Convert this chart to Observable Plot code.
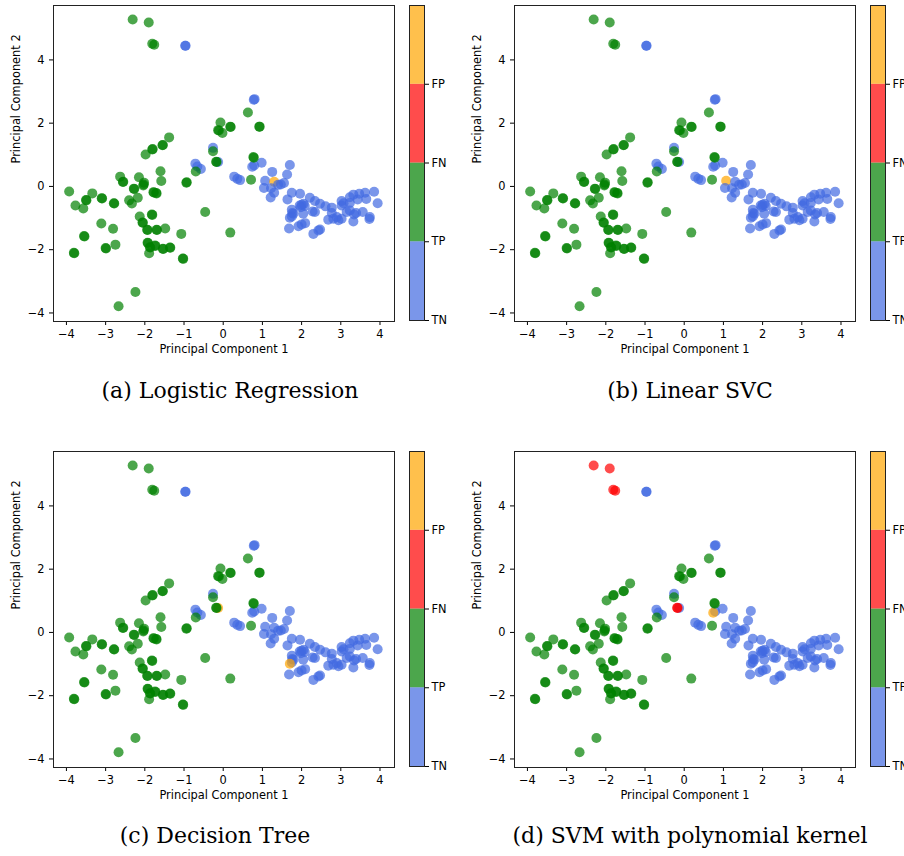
<!DOCTYPE html>
<html><head><meta charset="utf-8">
<script src="https://cdn.jsdelivr.net/npm/d3@7"></script>
<script src="https://cdn.jsdelivr.net/npm/@observablehq/plot@0.6"></script>
<style>
html,body{margin:0;padding:0;background:#fff;width:904px;height:856px;overflow:hidden;position:relative;}
.abs{position:absolute;}
.cap{position:absolute;font-family:"DejaVu Serif",serif;font-size:22px;line-height:26px;color:#000;transform:translateX(-50%);white-space:nowrap;}
</style></head><body>
<script>
// Actual positives (green when predicted correctly)
const pos1 = [
  -2.31,-1.90,-1.81,-1.76,0.63,0.92,0.93,-0.07,-0.13,-0.11,-0.02,0.18,0.19,-0.26,-0.18,-0.17,0.77,0.78,-0.70,-0.94,-0.93,0.71,-0.46,0.18,-1.07,
  -1.38,-1.55,-1.54,-1.81,-1.80,-1.98,-1.60,-1.58,-2.63,-2.56,-2.55,-2.15,-2.02,-2.04,-2.03,-2.28,-2.27,-1.78,-1.77,-1.71,-1.70,
  -3.93,-3.34,-3.50,-3.49,-3.77,-3.57,-3.10,-3.09,-2.79,-2.78,-2.40,-2.33,-2.18,-2.13,-2.06,-2.05,-1.82,-1.81,-1.94,-1.93,-1.70,-1.69,-1.48,
  -3.11,-2.81,-3.55,-3.54,-2.75,-3.00,-2.99,-3.81,-3.80,-1.93,-1.92,-1.87,-1.86,-1.89,-1.74,-1.73,-1.54,-1.53,-1.36,-1.35,-1.03,-1.02,-2.24,-2.67
];
const pos2 = [
  5.28,5.18,4.51,4.48,2.34,1.89,1.89,2.02,1.78,1.77,1.69,1.89,1.88,1.11,0.78,0.77,0.93,0.91,0.47,0.12,0.13,0.21,-0.81,-1.46,-1.50,
  1.55,1.30,1.31,1.17,1.18,1.01,0.48,0.17,0.31,0.14,0.15,0.29,0.12,0.03,0.06,-0.07,-0.08,-0.18,-0.19,-0.21,-0.22,
  -0.16,-0.22,-0.43,-0.44,-0.60,-0.70,-0.37,-0.38,-0.53,-0.54,-0.44,-0.54,-0.36,-0.95,-1.14,-1.15,-0.89,-0.90,-1.37,-1.38,-1.37,-1.38,-1.33,
  -1.17,-1.34,-1.57,-1.58,-1.84,-1.95,-1.96,-2.10,-2.11,-1.78,-1.79,-1.92,-1.93,-2.11,-1.87,-1.88,-1.97,-1.98,-1.93,-1.94,-2.28,-2.29,-3.34,-3.79
];
// Actual negatives (blue when predicted correctly)
const neg1 = [
  -0.97,-0.96,0.78,0.80,-0.26,-0.13,-0.71,-0.66,-0.57,0.79,0.74,0.98,0.28,0.36,0.43,1.07,1.25,1.70,1.63,1.30,1.40,1.47,1.55,1.04,1.22,1.30,1.21,1.75,1.96,1.64,
  2.21,2.34,2.47,2.61,2.77,3.02,3.07,3.23,3.32,3.47,3.62,3.85,3.94,3.65,3.43,3.23,
  2.00,2.08,1.95,2.05,1.98,1.75,1.79,1.76,1.75,1.70,2.04,2.28,2.34,1.68,1.92,2.00,2.09,2.30,2.43,2.47,2.68,2.81,2.94,3.02,2.90,2.77,3.02,3.15,3.23,3.34,3.39,3.56,3.32,3.74,3.73
];
const neg2 = [
  4.45,4.45,2.74,2.76,1.22,0.77,0.72,0.63,0.55,0.66,0.62,0.75,0.31,0.24,0.20,0.18,0.46,0.68,0.38,0.15,0.05,0.06,0.11,-0.05,-0.06,-0.20,-0.35,-0.20,-0.23,-0.41,
  -0.36,-0.46,-0.55,-0.63,-0.67,-0.46,-0.53,-0.34,-0.26,-0.23,-0.20,-0.17,-0.53,-0.40,-0.41,-0.52,
  -0.58,-0.62,-0.60,-0.55,-0.66,-0.74,-0.86,-0.84,-0.95,-0.99,-0.86,-0.79,-0.81,-1.33,-1.26,-1.20,-1.16,-1.50,-1.39,-1.36,-1.05,-1.02,-1.07,-1.02,-0.97,-0.84,-0.60,-0.81,-0.76,-0.89,-0.84,-0.81,-1.11,-0.97,-1.03
];
// Points each model gets wrong
const missLR   = [[1.30, 0.15]];
const missSVC  = [[1.07, 0.18]];
const missDT   = [[-0.13, 0.77], [1.70, -0.99]];
const missPoly = [[-2.31, 5.28], [-1.90, 5.18], [-1.81, 4.51], [-1.76, 4.48], [-0.18, 0.78], [-0.17, 0.77], [0.74, 0.62]];

const captions = ["(a) Logistic Regression", "(b) Linear SVC", "(c) Decision Tree", "(d) SVM with polynomial kernel"];
const misses = [missLR, missSVC, missDT, missPoly];
const outcomeNames = ["TN", "TP", "FN", "FP"];
const outcomeColors = ["royalblue", "green", "red", "orange"];
const xTicks = [-4, -3, -2, -1, 0, 1, 2, 3, 4];
const yTicks = [-4, -2, 0, 2, 4];
const xLabel = "Principal Component 1";
const yLabel = "Principal Component 2";

function rowsFor(miss) {
  const isMiss = (x, y) => miss.some(([a, b]) => a === x && b === y);
  const rows = [];
  neg1.forEach((x, i) => rows.push({pc1: x, pc2: neg2[i], outcome: isMiss(x, neg2[i]) ? "FP" : "TN"}));
  pos1.forEach((x, i) => rows.push({pc1: x, pc2: pos2[i], outcome: isMiss(x, pos2[i]) ? "FN" : "TP"}));
  return rows;
}

const colorScale = {domain: outcomeNames, range: outcomeColors};
const font = {fontFamily: "DejaVu Sans, sans-serif", fontSize: "11.4px", color: "#000", background: "transparent", overflow: "visible"};

function scatter(rows) {
  return Plot.plot({
    width: 400, height: 365, marginLeft: 53, marginRight: 6, marginTop: 5, marginBottom: 44,
    x: {domain: [-4.33, 4.37]},
    y: {domain: [-4.27, 5.72]},
    color: colorScale,
    style: font,
    marks: [
      Plot.axisX({ticks: xTicks, tickSize: 4, tickPadding: 4, label: null, stroke: "#000"}),
      Plot.axisY({ticks: yTicks, tickSize: 4, tickPadding: 5, label: null, stroke: "#000"}),
      Plot.dot(rows, {x: "pc1", y: "pc2", r: 5, fill: "outcome", fillOpacity: 0.7}),
      Plot.frame({stroke: "#222", strokeWidth: 1}),
      Plot.text([xLabel], {frameAnchor: "bottom", dy: 31, fontSize: 11.4, fill: "#000"}),
      Plot.text([yLabel], {frameAnchor: "left", dx: -37, rotate: -90, fontSize: 11.4, fill: "#000"})
    ]
  });
}

const cbarRows = outcomeNames.map((o, i) => ({outcome: o, lo: i, hi: i + 1}));
function colorbar() {
  return Plot.plot({
    width: 60, height: 365, marginLeft: 0, marginRight: 45, marginTop: 5, marginBottom: 45,
    y: {domain: [0, 4]},
    color: colorScale,
    style: font,
    marks: [
      Plot.rect(cbarRows, {y1: "lo", y2: "hi", fill: "outcome", fillOpacity: 0.7}),
      Plot.frame({stroke: "#222", strokeWidth: 1}),
      Plot.axisY({anchor: "right", ticks: [0, 1, 2, 3], tickFormat: i => outcomeNames[i], tickSize: 4, tickPadding: 3, label: null, stroke: "#000"})
    ]
  });
}

const panelPos = [[0, 0], [461, 0], [0, 446], [461, 446]];
const capPos = [[230, 378], [690, 378], [215, 823], [690, 823]];
captions.forEach((cap, k) => {
  const [px, py] = panelPos[k];
  const s = scatter(rowsFor(misses[k]));
  s.classList.add("abs"); s.style.left = px + "px"; s.style.top = py + "px";
  document.body.appendChild(s);
  const c = colorbar();
  c.classList.add("abs"); c.style.left = (px + 409) + "px"; c.style.top = py + "px";
  document.body.appendChild(c);
  const d = document.createElement("div");
  d.className = "cap"; d.textContent = cap;
  d.style.left = capPos[k][0] + "px"; d.style.top = capPos[k][1] + "px";
  document.body.appendChild(d);
});
</script>
</body></html>
